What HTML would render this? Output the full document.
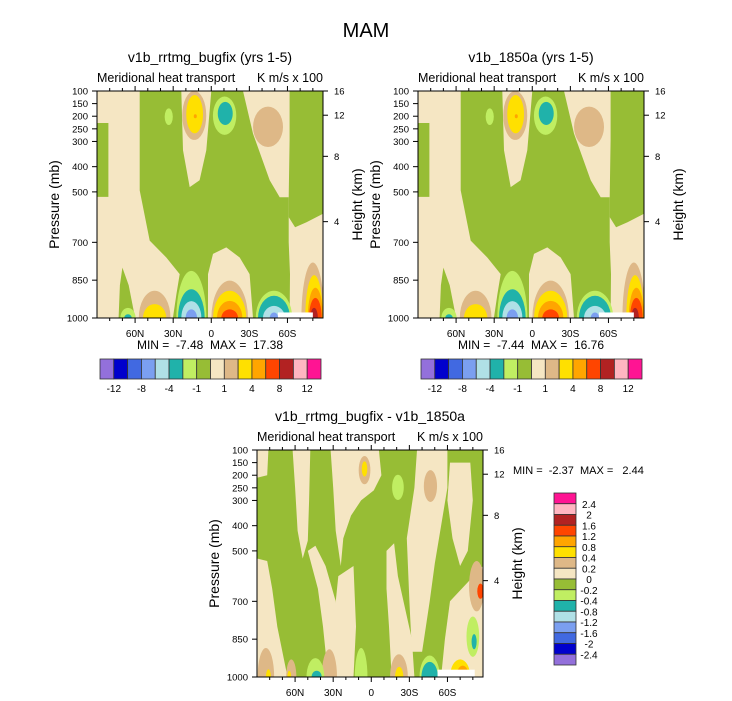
<!DOCTYPE html>
<html><head><meta charset="utf-8"><style>
html,body{margin:0;padding:0;background:#fff;}
svg{display:block;font-family:"Liberation Sans",sans-serif;}
text{white-space:pre;}
</style></head><body>
<svg id="fig" width="732" height="701" viewBox="0 0 732 701">
<text x="366" y="37" font-size="20" text-anchor="middle">MAM</text>
</svg>
<script>
const NS="http://www.w3.org/2000/svg";
const svg=document.getElementById('fig');
const colors=["#9370DB","#0000CD","#4169E1","#7B9FF0","#B0E0E6","#20B2AA","#C0EE62","#97BD35","#F5E6C3","#DEB887","#FFE000","#FFA500","#FF4500","#B22222","#FFB6C1","#FF1493"];
const levelsMean=[-12,-10,-8,-6,-4,-2,-1,0,1,2,4,6,8,10,12];
const levelsDiff=[-2.4,-2,-1.6,-1.2,-0.8,-0.4,-0.2,0,0.2,0.4,0.8,1.2,1.6,2,2.4];
const latTicks=[60,30,0,-30,-60];
const latLabels=["60N","30N","0","30S","60S"];
const latMinor=[80,70,50,40,20,10,-10,-20,-40,-50,-70,-80];
const presTicks=[100,150,200,250,300,400,500,700,850,1000];
const heightTicks=[16,12,8,4];
const heightPres=[100,196,359,618];
// mean field: green (below 0) region polygons [lat,p]
const meanGreen=[
[[56.4,100],[23.6,100],[22.3,335],[17,481],[9.2,454],[3.9,335],[0,100],[-25,100],[-32.9,269],[-46,454],[-53.9,521],[-61,521],[-61,700],[-62,826],[-61.7,1000],[-32.9,1000],[-30.2,826],[-22.4,760],[-11.8,720],[-1.4,746],[2.6,826],[2.6,1000],[30.2,1000],[27.5,906],[24.9,826],[35.4,760],[48.5,693],[56.4,494]],
[[-61.7,100],[-88,100],[-88,587],[-75,620],[-66,640],[-61,600],[-61,521],[-61.7,295]],
[[90,227],[81,227],[81,520],[90,520]],
[[73,1000],[72,870],[70,800],[65,870],[60,1000]]
];
// surface blobs: [lat, halfwidth(deg), top pressure, value]
const meanSurf=[
[44.6,12.5,892,1.5],[44.6,9.2,945,3],
[15.7,11.8,813,-1.5],[15.7,10.5,886,-3],[15.7,7.9,933,-5],[15.7,4.5,966,-7],
[-14.5,14.4,852,1.5],[-14.5,13.1,892,3],[-14.5,10,932,5],[-14.5,6.6,966,7],
[-49.4,14.4,892,-1.5],[-49.4,12.6,912,-3],[-49.4,8.7,952,-5],[-49.4,3.4,978,-7],
[65.6,6,960,-1.5],[65.6,3,985,-3],
[-80,9,780,1.5],[-81,7,830,3],[-82,6,880,5],[-82,5,920,7],[-81,3,960,9]
];
// upper blobs: [lat, halfwidth, center p, half-height p, value]
const meanUpper=[
[13.4,9.45,197,97,1.5],[13.1,6.6,192,76,3],[12.6,1.2,200,8,5],
[-10.5,9.2,198,76,-1.5],[-11,5.9,189,46,-3],
[-44.7,11.8,242,80,1.5],
[33.5,3.2,202,33,-1.5]
];
// diff field: beige (above 0) polygons on green
const diffBeige=[
[[90,100],[81,100],[82,200],[90,210]],
[[90,530],[82,540],[78,650],[74,800],[66,1000],[90,1000]],
[[62,100],[48,100],[49,300],[50,460],[54,530],[58,420],[60,250]],
[[50,500],[44,480],[36,560],[28,700],[24,1000],[34,1000],[38,800],[42,650]],
[[32,100],[-6,100],[-8,200],[-2,260],[8,300],[16,360],[22,450],[24,560],[28,420],[30,250]],
[[26,600],[14,560],[12,800],[14,1000],[28,1000],[30,800]],
[[-12,500],[-18,470],[-21,600],[-32,850],[-34,1000],[-16,1000],[-14,800],[-12,650]],
[[-36,100],[-60,100],[-60,250],[-55,400],[-50,550],[-46,700],[-40,900],[-32,900],[-30,700],[-28,450],[-34,250]],
[[-62,150],[-78,150],[-80,300],[-76,500],[-70,560],[-64,450],[-60,300]],
[[-62,700],[-88,560],[-88,1000],[-55,1000],[-58,850]]
];
const diffSurf=[
[83,6.5,885,0.3],[81,2,970,0.6],[63,4,930,0.3],[64.6,1.5,975,0.6],
[33,6,890,0.3],
[44,7,925,-0.3],[43,4,975,-0.6],[8,5,885,-0.3],
[-21.8,7,910,0.3],[-22,3.3,960,0.6],
[-46,8,915,-0.3],[-46,6.5,940,-0.6],
[-70,8,930,0.6],[-72,5,955,1.0],[-76,2,985,1.8]
];
const diffUpper=[
[5.3,4.6,180,56,0.3],[5.3,2.2,175,30,0.6],
[-21,4.6,248,50,-0.3],[-46.6,5.2,243,63,0.3],
[-83,6,640,100,0.3],[-86,2.5,660,30,1.4],[-80,5,840,80,-0.3],[-81,2,860,30,-0.6]
];

function colorFor(v,levels){let i=0;for(const l of levels){if(l<v)i++;}return colors[i];}
function el(tag,attrs,parent){const e=document.createElementNS(NS,tag);for(const k in attrs)e.setAttribute(k,attrs[k]);(parent||svg).appendChild(e);return e;}
function txt(x,y,s,size,anchor,parent){const t=el('text',{x:x,y:y,'font-size':size,'text-anchor':anchor||'start'},parent);t.textContent=s;return t;}

function panel(id,ox,oy,title,fieldBase,polys,surf,upper,levels,minmax,whiteBox){
  const W=226,H=227;
  const X=lat=>ox+(90-lat)/178*W;
  const Y=p=>oy+(p-100)/900*H;
  const g=el('g',{});
  
  
  const cp=el('clipPath',{id:id+'-clip'},g);
  el('rect',{x:ox,y:oy,width:W,height:H},cp);
  const f=el('g',{'clip-path':'url(#'+id+'-clip)'},g);
  
  
  const bg=el('rect',{x:ox,y:oy,width:W,height:H,fill:colorFor(fieldBase,levels)},f);
  
  
  const polyVal=-fieldBase;
  polys.forEach(poly=>{
    const pe=el('polygon',{points:poly.map(q=>X(q[0]).toFixed(1)+','+Y(q[1]).toFixed(1)).join(' '),fill:colorFor(polyVal,levels)},f);
    
    
  });
  surf.forEach(b=>{
    const e=el('ellipse',{cx:X(b[0]),cy:Y(1000),rx:b[1]*W/178,ry:Y(1000)-Y(b[2]),fill:colorFor(b[3],levels)},f);
    
    
  });
  upper.forEach(b=>{
    const e=el('ellipse',{cx:X(b[0]),cy:Y(b[2]),rx:b[1]*W/178,ry:b[3]*H/900,fill:colorFor(b[4],levels)},f);
    
    
  });
  const wb=el('rect',{x:X(whiteBox[0]),y:Y(whiteBox[2]),width:X(whiteBox[1])-X(whiteBox[0]),height:Y(1000)-Y(whiteBox[2]),fill:'#fff'},f);
  
  
  const fr=el('rect',{x:ox,y:oy,width:W,height:H,fill:'none',stroke:'#000','stroke-width':1},g);
  
  
  latTicks.forEach((lat,i)=>{
    el('line',{x1:X(lat),x2:X(lat),y1:oy+H,y2:oy+H+5,stroke:'#000'},g);
    el('line',{x1:X(lat),x2:X(lat),y1:oy,y2:oy-5,stroke:'#000'},g);
    const t=txt(X(lat),oy+H+19,latLabels[i],10,'middle',g);
    
    
  });
  latMinor.forEach(lat=>{
    el('line',{x1:X(lat),x2:X(lat),y1:oy+H,y2:oy+H+3,stroke:'#000'},g);
    el('line',{x1:X(lat),x2:X(lat),y1:oy,y2:oy-3,stroke:'#000'},g);
  });
  presTicks.forEach(p=>{
    el('line',{x1:ox-5,x2:ox,y1:Y(p),y2:Y(p),stroke:'#000'},g);
    const t=txt(ox-9,Y(p)+3.5,String(p),9.5,'end',g);
    
    
  });
  heightTicks.forEach((z,i)=>{
    el('line',{x1:ox+W,x2:ox+W+5,y1:Y(heightPres[i]),y2:Y(heightPres[i]),stroke:'#000'},g);
    const t=txt(ox+W+11,Y(heightPres[i])+3.5,String(z),9.5,'start',g);
    
    
  });
  const yl=txt(0,0,'Pressure (mb)',14,'middle',g);
  yl.setAttribute('transform','translate('+(ox-38)+','+(oy+H/2)+') rotate(-90)');
  
  
  const hl=txt(0,0,'Height (km)',14,'middle',g);
  hl.setAttribute('transform','translate('+(ox+W+39)+','+(oy+H/2)+') rotate(-90)');
  
  
  const tt=txt(ox+W/2,oy-29,title,14,'middle',g);
  
  
  const lt=txt(ox,oy-9,'Meridional heat transport',12.5,'start',g);
  
  
  const ut=txt(ox+W,oy-9,'K m/s x 100',12.5,'end',g);
  
  
  if(minmax){
    const mm=txt(ox+W/2,oy+H+31,minmax,12,'middle',g);
    
    
  }
}

function hbar(id,x0,y0){
  const g=el('g',{});
  
  
  const bw=221/colors.length;
  colors.forEach((c,i)=>{
    const r=el('rect',{x:x0+i*bw,y:y0,width:bw,height:20,fill:c,stroke:'#333','stroke-width':0.8},g);
    
    
  });
  levelsMean.forEach((l,i)=>{
    if(i%2===0){
      const t=txt(x0+(i+1)*bw,y0+33,String(l),10,'middle',g);
      
      
    }
  });
}

panel('panel-bugfix',97,91,'v1b_rrtmg_bugfix (yrs 1-5)',0.5,meanGreen,meanSurf,meanUpper,levelsMean,'MIN =  -7.48  MAX =  17.38',[-52.5,-80,978]);
panel('panel-1850a',418,91,'v1b_1850a (yrs 1-5)',0.5,meanGreen,meanSurf,meanUpper,levelsMean,'MIN =  -7.44  MAX =  16.76',[-52.5,-80,978]);
panel('panel-diff',257,450,'v1b_rrtmg_bugfix - v1b_1850a',-0.1,diffBeige,diffSurf,diffUpper,levelsDiff,null,[-52.2,-81.5,971]);
hbar('colorbar-bugfix',100,359);
hbar('colorbar-1850a',421,359);

const mmd=txt(513,474,'MIN =  -2.37  MAX =   2.44',11,'start');



(function(){
  const g=el('g',{});
  
  
  const bh=172/colors.length;
  colors.slice().reverse().forEach((c,i)=>{
    const r=el('rect',{x:554,y:493+i*bh,width:22,height:bh,fill:c,stroke:'#333','stroke-width':0.8},g);
    
    
  });
  levelsDiff.slice().reverse().forEach((l,i)=>{
    const t=txt(589,493+(i+1)*bh+4,String(l),10,'middle',g);
    
    
  });
})();
</script>
</body></html>
